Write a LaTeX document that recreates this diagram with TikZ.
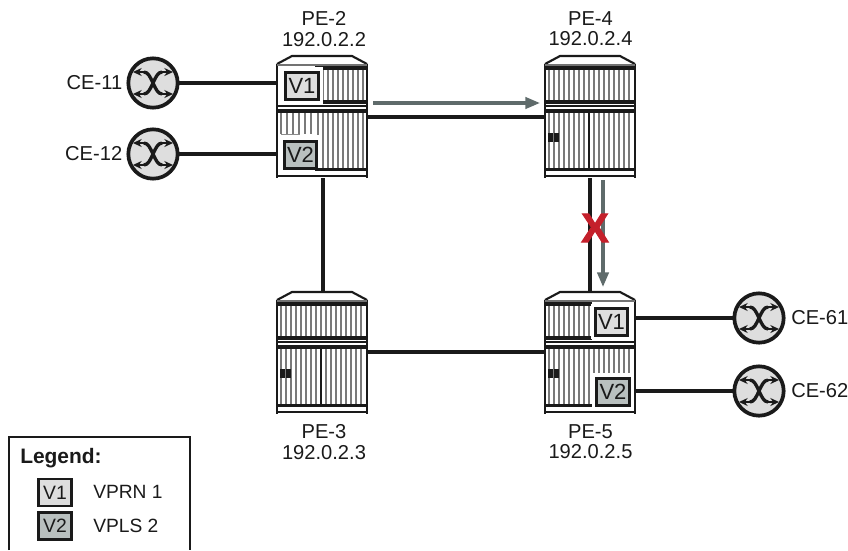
\documentclass[tikz,border=0pt]{standalone}
\usepackage{fontspec}
\setmainfont{Liberation Sans}
\newfontfamily\xmarkfont[FakeBold=2.5]{Liberation Sans Bold}
\usetikzlibrary{arrows.meta}
\definecolor{vone}{HTML}{DEDEDE}
\definecolor{vtwo}{HTML}{B9C0BF}
\definecolor{cefill}{HTML}{DEDEDE}
\definecolor{flow}{HTML}{5F6B6B}
\definecolor{redx}{HTML}{C4202B}
\definecolor{ink}{HTML}{1A1A1A}
\tikzset{
  x=0.75pt,y=-0.75pt,
  lnk/.style={draw=ink,line width=3.1pt},
  flowarrow/.style={draw=flow,line width=2.4pt,-{Triangle[length=11pt,width=8.5pt]}},
  lbl/.style={font=\fontsize{15.1}{15.2}\selectfont,text=ink,align=center,inner sep=0pt},
  vbox/.style={draw=ink,line width=2.4pt,inner sep=0pt,minimum width=24.5pt,minimum height=20pt,font=\fontsize{16.5}{18}\selectfont,text=ink},
  vs/.style={vbox,fill=vone},
  vt/.style={vbox,fill=vtwo},
  cebox/.style={circle,draw=ink,fill=cefill,line width=2.8pt,minimum size=37pt,inner sep=0pt},
  rbody/.style={draw=none,minimum width=67.5pt,minimum height=91.5pt,inner sep=0pt,outer sep=0pt,anchor=north west},
  rline/.style={draw=ink,line width=1.6pt},
  rbar/.style={draw=ink,line width=2.6pt},
  hatch/.style={draw=black!52,line width=1.35pt},
  lgl/.style={font=\fontsize{14.4}{15}\selectfont,text=ink,anchor=west,inner sep=0pt},
  lgbox/.style={minimum width=25pt,minimum height=20pt,line width=1.9pt,font=\fontsize{14.5}{16}\selectfont},
}
% frame of a router; #1 name, #2,#3 top-left
\newcommand{\rframe}[3]{%
  \node[rbody] (#1) at (#2,#3) {};
  \begin{scope}[shift={(#2,#3)}]
    \path[fill=white] (0,8) -- (15,0) -- (75,0) -- (90,8) -- (90,122) -- (0,122) -- cycle;
    \draw[rline] (0,8) -- (15,0) -- (75,0) -- (90,8);
    \draw[rline] (0,8) -- (0,122);
    \draw[rline] (90,8) -- (90,122);
    \draw[draw=black!55,line width=1.5pt] (0,9) -- (90,9);
    \draw[rline] (0,50) -- (90,50);
    \draw[rbar] (0,55) -- (90,55);
    \draw[rline] (0,120) -- (90,120);
  \end{scope}}
% vertical hatch lines, drawn relative to the router
\newcommand{\rhatch}[6]{%
  \begin{scope}[shift={(#1,#2)}]
    \foreach \hx in {#3} {\draw[hatch] (\hx,#4) -- (\hx,#5);}
    #6
  \end{scope}}
\begin{document}
\begin{tikzpicture}
\useasboundingbox (0,0) rectangle (848,550);
% routers
\rframe{pe2}{277}{56}
\rhatch{277}{56}{46,51,...,86}{12}{45}{\draw[rbar] (38,12)--(90,12); \draw[rbar] (38,46)--(90,46);}
\rhatch{277}{56}{4,10,...,34}{57}{78}{\draw[draw=black!45,line width=0.6pt] (4,78) rectangle (22,84);}
\rhatch{277}{56}{41,46,...,86}{57}{113}{\draw[rbar] (38,113.5)--(90,113.5);}
\rframe{pe4}{545}{56}
\rhatch{545}{56}{4,9,...,84}{12}{45}{\draw[rbar] (0,12)--(90,12); \draw[rbar] (0,46)--(90,46);}
\rhatch{545}{56}{4,9,...,84}{57}{113}{\draw[draw=ink,line width=1.2pt] (44,57)--(44,113); \draw[rbar] (0,113.5)--(90,113.5); \fill[ink] (3,77) rectangle (7.5,86); \fill[ink] (9,77) rectangle (13.5,86);}
\rframe{pe3}{277}{292}
\rhatch{277}{292}{4,9,...,84}{12}{45}{\draw[rbar] (0,12)--(90,12); \draw[rbar] (0,46)--(90,46);}
\rhatch{277}{292}{4,9,...,84}{57}{113}{\draw[draw=ink,line width=1.2pt] (44,57)--(44,113); \draw[rbar] (0,113.5)--(90,113.5); \fill[ink] (3,77) rectangle (7.5,86); \fill[ink] (9,77) rectangle (13.5,86);}
\rframe{pe5}{545}{292}
\rhatch{545}{292}{4,9,...,44}{12}{45}{\draw[rbar] (0,12)--(47,12); \draw[rbar] (0,46)--(47,46);}
\rhatch{545}{292}{49,54,...,84}{57}{81}{}
\rhatch{545}{292}{4,9,...,44}{57}{113}{\draw[rbar] (0,113.5)--(48,113.5); \fill[ink] (3,77) rectangle (7.5,86); \fill[ink] (9,77) rectangle (13.5,86);}
% service boxes
\fill[white] (281,67) rectangle (323,104);
\fill[white] (280,135) rectangle (321,168);
\fill[white] (591,304) rectangle (632,339);
\fill[white] (592,374) rectangle (634,409);
\node[vs] (v1a) at (302,86) {V1};
\node[vt] (v2a) at (300.5,155) {V2};
\node[vs] (v1b) at (611.5,322) {V1};
\node[vt] (v2b) at (613,392) {V2};
% CEs
\node[cebox] (ce11) at (153,83) {};
\node[cebox] (ce12) at (153,154) {};
\node[cebox] (ce61) at (759,318) {};
\node[cebox] (ce62) at (759,391) {};
\foreach \c in {ce11,ce12,ce61,ce62} {
  \begin{scope}[shift={(\c)}]
    \draw[ink,line width=2.5pt] (-9,-11) .. controls (-1,-11) and (1,11) .. (9,11);
    \draw[ink,line width=2.5pt] (-9,11) .. controls (-1,11) and (1,-11) .. (9,-11);
    \draw[ink,line width=1.3pt,-{Stealth[length=6.5pt,width=6pt]}] (-8,-11) -- (-20,-11);
    \draw[ink,line width=1.3pt,-{Stealth[length=6.5pt,width=6pt]}] (-8,11) -- (-20,11);
    \draw[ink,line width=1.3pt,-{Stealth[length=6.5pt,width=6pt]}] (8,-11) -- (20,-11);
    \draw[ink,line width=1.3pt,-{Stealth[length=6.5pt,width=6pt]}] (8,11) -- (20,11);
  \end{scope}}
% links
\coordinate (a24) at (368,117);
\draw[lnk] (pe2.east |- a24) -- (pe4.west |- a24);
\coordinate (a35) at (368,352);
\draw[lnk] (pe3.east |- a35) -- (pe5.west |- a35);
\coordinate (a23) at (323,178);
\draw[lnk] (pe2.south -| a23) -- (pe3.north -| a23);
\coordinate (a45) at (590,178);
\draw[lnk] (pe4.south -| a45) -- (pe5.north -| a45);
\draw[lnk] (ce11) ++(26,0) -- (pe2.west |- ce11);
\draw[lnk] (ce12) ++(26,0) -- (pe2.west |- ce12);
\draw[lnk] (pe5.east |- ce61) -- ++(98,0);
\draw[lnk] (pe5.east |- ce62) -- ++(98,0);
% flows
\coordinate (f1) at (373,103);
\coordinate (f2) at (540,103);
\draw[flowarrow] (f1) -- (f2);
\coordinate (f3) at (603,180);
\coordinate (f4) at (603,287);
\draw[flowarrow] (f3) -- (f4);
\node[inner sep=0pt,text=redx,font=\fontsize{31}{31}\xmarkfont] (xmark) at (595,228) {X};
% labels
\node[lbl] (l2) at (324,29) {PE-2\\192.0.2.2};
\node[lbl] (l4) at (590.5,29) {PE-4\\192.0.2.4};
\node[lbl] (l3) at (324,442) {PE-3\\192.0.2.3};
\node[lbl] (l5) at (590.5,442) {PE-5\\192.0.2.5};
\node[lbl,anchor=east] (lc11) at (122.5,83) {CE-11};
\node[lbl,anchor=east] (lc12) at (122.5,154) {CE-12};
\node[lbl,anchor=west] (lc61) at (791,318) {CE-61};
\node[lbl,anchor=west] (lc62) at (791,391) {CE-62};
% legend
\draw[draw=ink,line width=0.9pt] (9,550) -- (9,437) -- (190,437) -- (190,550);
\node[lgl,font=\fontsize{15.7}{15}\bfseries\selectfont] (lt) at (20,458) {Legend:};
\node[vs,lgbox] (k1) at (55,492.5) {V1};
\node[vt,lgbox] (k2) at (55,526) {V2};
\node[lgl] (k1t) at (93,492) {VPRN 1};
\node[lgl] (k2t) at (93,526) {VPLS 2};
\end{tikzpicture}
\end{document}
